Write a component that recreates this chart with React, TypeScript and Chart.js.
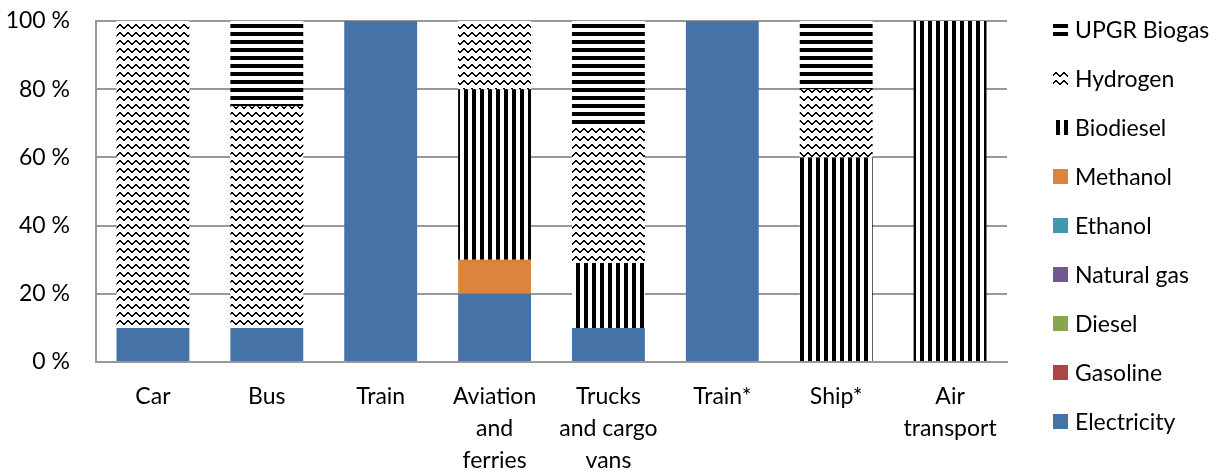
import React, { useEffect, useRef } from "react";
import { Chart, registerables } from "chart.js";

Chart.register(...registerables);

const categories: string[][] = [
  ["Car"],
  ["Bus"],
  ["Train"],
  ["Aviation", "and", "ferries"],
  ["Trucks", "and cargo", "vans"],
  ["Train*"],
  ["Ship*"],
  ["Air", "transport"],
];

const electricity = [10, 10, 100, 20, 10, 100, 0, 0];
const gasoline = [0, 0, 0, 0, 0, 0, 0, 0];
const diesel = [0, 0, 0, 0, 0, 0, 0, 0];
const naturalGas = [0, 0, 0, 0, 0, 0, 0, 0];
const ethanol = [0, 0, 0, 0, 0, 0, 0, 0];
const methanol = [0, 0, 0, 10, 0, 0, 0, 0];
const biodiesel = [0, 0, 0, 50, 19, 0, 60, 100];
const hydrogen = [90, 65, 0, 20, 40, 0, 20, 0];
const upgrBiogas = [0, 25, 0, 0, 31, 0, 20, 0];

const yTicks = [0, 20, 40, 60, 80, 100];

const FONT = "Lato";
const FS = 23;

function makePattern(ctx: CanvasRenderingContext2D, kind: string): CanvasPattern | string {
  const c = document.createElement("canvas");
  c.width = 8;
  c.height = 8;
  const g = c.getContext("2d")!;
  g.fillStyle = "#ffffff";
  g.fillRect(0, 0, 8, 8);
  g.fillStyle = "#000000";
  if (kind === "h") g.fillRect(0, 0, 8, 4);
  if (kind === "v") g.fillRect(0, 0, 4, 8);
  if (kind === "wave") {
    const ys = [0, 1, 2, 3, 3, 2, 1, 0];
    ys.forEach((y, x) => g.fillRect(x, y, 1, 2));
  }
  return ctx.createPattern(c, "repeat") || "#000";
}

const sideLegend = {
  id: "sideLegend",
  afterDraw(chart: any) {
    const ctx: CanvasRenderingContext2D = chart.ctx;
    const ds = chart.data.datasets;
    const x0 = chart.chartArea.right + 46;
    const n = ds.length;
    ctx.save();
    ctx.font = `${FS}px ${FONT}`;
    ctx.textBaseline = "middle";
    ctx.textAlign = "left";
    for (let k = 0; k < n; k++) {
      const d = ds[n - 1 - k];
      const cy = 30 + k * 48.9;
      ctx.fillStyle = d.backgroundColor;
      ctx.fillRect(x0, Math.round(cy - 7.5), 15, 15);
      ctx.fillStyle = "#000";
      ctx.fillText(d.label, x0 + 22, cy + 1);
    }
    ctx.restore();
  },
};

export default function App() {
  const ref = useRef<HTMLCanvasElement | null>(null);

  useEffect(() => {
    const canvas = ref.current!;
    const ctx = canvas.getContext("2d")!;
    const pH = makePattern(ctx, "h");
    const pV = makePattern(ctx, "v");
    const pW = makePattern(ctx, "wave");

    const chart = new Chart(canvas, {
      type: "bar",
      data: {
        labels: categories,
        datasets: [
          { label: "Electricity", data: electricity, backgroundColor: "#4572A7" },
          { label: "Gasoline", data: gasoline, backgroundColor: "#AA4643" },
          { label: "Diesel", data: diesel, backgroundColor: "#89A54E" },
          { label: "Natural gas", data: naturalGas, backgroundColor: "#71588F" },
          { label: "Ethanol", data: ethanol, backgroundColor: "#4198AF" },
          { label: "Methanol", data: methanol, backgroundColor: "#DB843D" },
          { label: "Biodiesel", data: biodiesel, backgroundColor: pV as any },
          { label: "Hydrogen", data: hydrogen, backgroundColor: pW as any },
          { label: "UPGR Biogas", data: upgrBiogas, backgroundColor: pH as any },
        ],
      },
      options: {
        responsive: false,
        animation: false,
        layout: { padding: { top: 21, right: 218, left: 0, bottom: 0 } },
        plugins: {
          legend: { display: false },
          tooltip: { enabled: false },
        },
        datasets: {
          bar: { barPercentage: 0.64, categoryPercentage: 1, borderWidth: 0 },
        },
        scales: {
          x: {
            stacked: true,
            grid: { display: false, drawTicks: false },
            border: { display: true, color: "#999999", width: 2 },
            ticks: {
              color: "#000",
              font: { family: FONT, size: FS, lineHeight: 1.41 },
              padding: 18,
              maxRotation: 0,
              autoSkip: false,
            },
            afterFit: (s: any) => {
              s.height = 110;
            },
          },
          y: {
            stacked: true,
            min: 0,
            max: 100,
            afterBuildTicks: (s: any) => {
              s.ticks = yTicks.map((v) => ({ value: v }));
            },
            ticks: {
              color: "#000",
              font: { family: FONT, size: FS },
              padding: 0,
              callback: (v: any) => `${v} %`,
            },
            grid: {
              color: "#999999",
              lineWidth: 2,
              drawTicks: true,
              tickLength: 26,
              tickColor: "rgba(0,0,0,0)",
            },
            border: { display: true, color: "#999999", width: 2 },
            afterFit: (s: any) => {
              s.width = 96;
            },
          },
        },
      },
      plugins: [sideLegend],
    });
    return () => chart.destroy();
  }, []);

  return (
    <div style={{ position: "fixed", left: 0, top: 0, width: 1225, height: 472, background: "#fff" }}>
      <canvas ref={ref} width={1225} height={472} style={{ display: "block" }} />
    </div>
  );
}
